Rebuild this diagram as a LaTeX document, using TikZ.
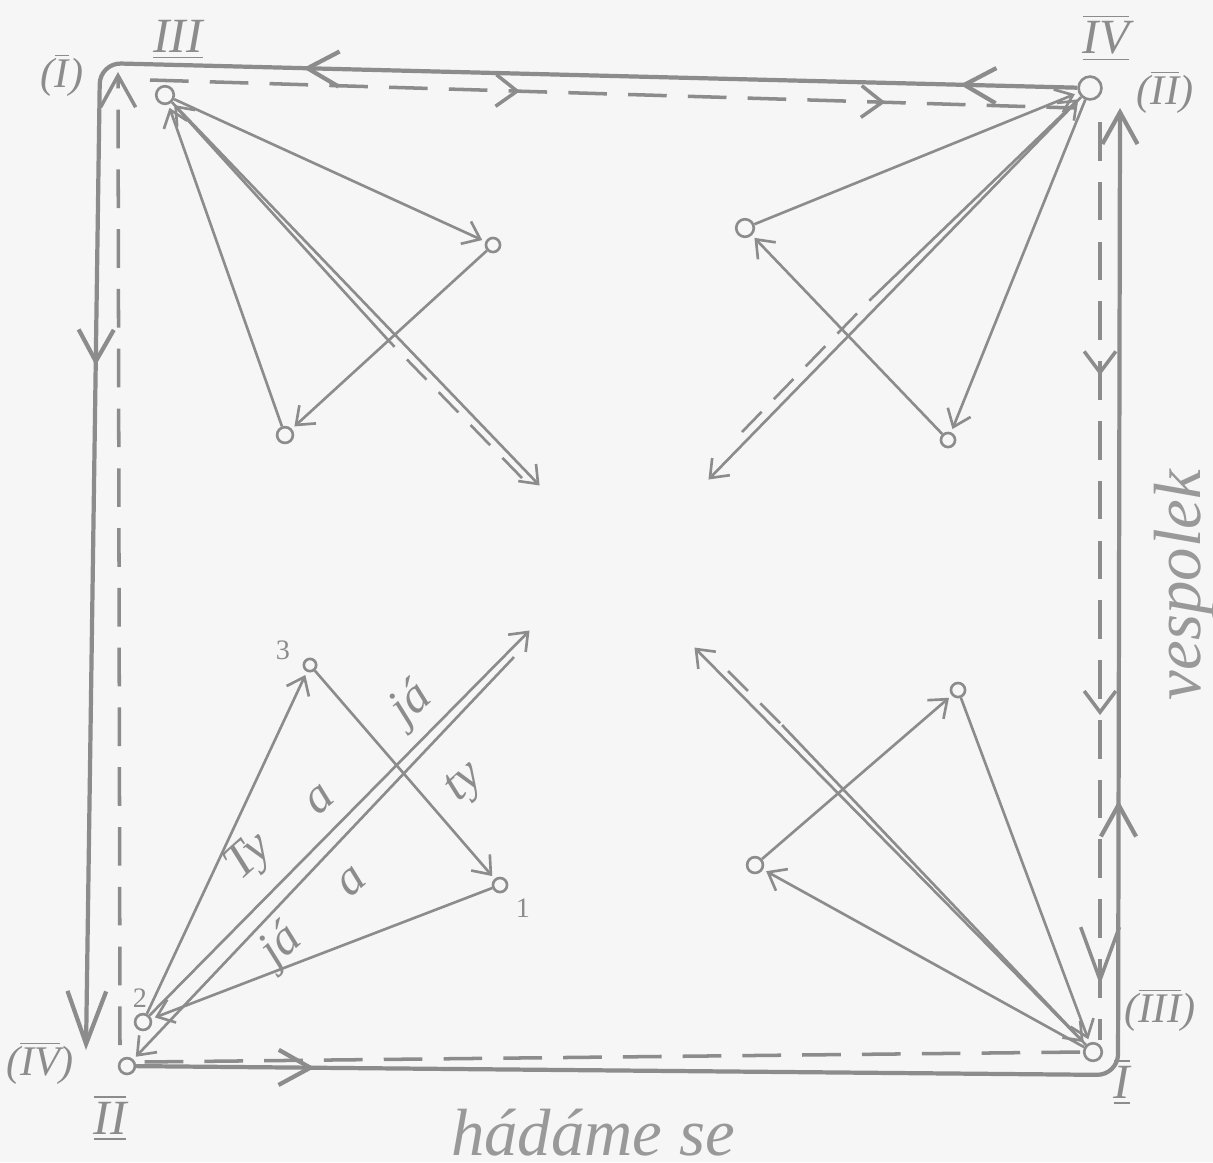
\documentclass[tikz,border=0pt]{standalone}
\usepackage{fontspec}
\setmainfont{Liberation Serif}
\usetikzlibrary{arrows.meta,positioning,decorations.markings}
\definecolor{pencil}{gray}{0.55}
\definecolor{paper}{gray}{0.965}
\definecolor{printgray}{gray}{0.6}
\newcommand{\topbar}[1]{$\overline{\hbox{#1}}$}
\newcommand{\lowbar}[1]{$\underline{\hbox{#1}}$}
\newcommand{\bothbar}[1]{$\overline{\underline{\hbox{#1}}}$}
\tikzset{
  smalltip/.tip={Straight Barb[length=4.5pt,width=7pt]},
  midtip/.tip={Straight Barb[length=6pt,width=9pt]},
  bigtip/.tip={Straight Barb[length=9pt,width=10pt]},
  hugetip/.tip={Straight Barb[length=15pt,width=11pt]},
  link/.style={draw=pencil,line width=0.75pt,-{smalltip},shorten >=1pt},
  twin/.style={draw=pencil,line width=0.75pt,dash pattern=on 8pt off 5pt},
  ring/.style={circle,draw=pencil,line width=0.75pt,inner sep=0pt,minimum size=#1},
  ring/.default=4pt,
  rim/.style={draw=pencil,line width=1.2pt,rounded corners=6pt},
  rimdash/.style={draw=pencil,line width=1pt,dash pattern=on 11pt off 6pt},
  tipat/.style={postaction={decorate,decoration={markings,mark=at position #1 with {\arrow{bigtip}}}}},
  dashtipat/.style={postaction={decorate,decoration={markings,mark=at position #1 with {\arrow{midtip}}}}},
  hugetipat/.style={postaction={decorate,decoration={markings,mark=at position #1 with {\arrow{hugetip}}}}},
  hand/.style={text=pencil,font=\itshape\fontsize{14}{14}\selectfont,inner sep=0pt},
  roman/.style={text=pencil,font=\itshape\fontsize{12}{12}\selectfont,inner sep=0pt},
  bigroman/.style={roman,font=\itshape\fontsize{14}{14}\selectfont},
  num/.style={text=pencil,font=\fontsize{8}{8}\selectfont,inner sep=0pt},
  caption/.style={text=printgray,font=\itshape\fontsize{19}{19}\selectfont,inner sep=0pt}
}
\begin{document}
\begin{tikzpicture}[x=0.01cm,y=-0.01cm]
\fill[paper] (0,0) rectangle (1213,1162);
\useasboundingbox (0,0) rectangle (1213,1162);
% rings: corner hubs and the small ones
\node[ring=5pt] (tl) at (165,95) {}; \node[ring=4pt] (ta) at (493,245) {}; \node[ring=4.5pt] (tb) at (285,435) {};
\node[ring=6.5pt] (tr) at (1090,88) {}; \node[ring=5pt] (tc) at (745,228) {}; \node[ring=4pt] (td) at (948,440) {};
\node[ring=5pt] (br) at (1093,1052) {}; \node[ring=4pt] (be) at (958,690) {}; \node[ring=4.5pt] (bf) at (755,865) {};
\node[ring=4.5pt] (bt) at (143,1022) {}; \node[ring=3.5pt] (bth) at (310,665) {}; \node[ring=4pt] (bo) at (500,885) {};
\node[ring=4.5pt] (bc) at (127,1066) {};
% outer frame, solid
\coordinate (fTL) at (100,63); \coordinate (fBL) at (86,1050); \coordinate (fBR) at (1118,1075); \coordinate (fTR) at (1120,108);
\draw[rim,-{hugetip},tipat=0.06,tipat=0.396,tipat=0.65] (tr) -- (fTL) -- (fBL);
\draw[rim,-{bigtip},tipat=0.092,tipat=0.643] (bc) -- (fBR) -- (fTR);
% inner frame, dashed
\coordinate (dT1) at (150,80); \coordinate (dT2) at (1075,108); \coordinate (dR1) at (1100,122); \coordinate (dR2) at (1100,1040);
\coordinate (dB1) at (1080,1052); \coordinate (dB2) at (140,1062); \coordinate (dL1) at (120,1045); \coordinate (dL2) at (118,72);
\draw[rimdash,dashtipat=0.4,dashtipat=0.795] (dT1) -- (dT2);
\draw[rimdash,dashtipat=0.276,dashtipat=0.646,hugetipat=0.94] (dR1) -- (dR2);
\draw[rimdash] (dB1) -- (dB2);
\draw[rimdash,-{bigtip}] (dL1) -- (dL2);
% triangles
\draw[link] (tl) -- (ta); \draw[link] (ta) -- (tb); \draw[link] (tb) -- (tl);
\draw[link] (tr) -- (td); \draw[link] (td) -- (tc); \draw[link] (tc) -- (tr);
\draw[link] (br) -- (bf); \draw[link] (bf) -- (be); \draw[link] (be) -- (br);
\draw[link] (bt) -- (bth); \draw[link] (bth) -- (bo); \draw[link] (bo) -- (bt);
% double lines to the middle
\coordinate (tlx) at (542,488); \coordinate (tlm) at (389,341); \coordinate (tly) at (522,478);
\draw[link] (tl) -- (tlx); \draw[twin] (tly) -- (tlm); \draw[link] (tlm) -- (tl);
\coordinate (trx) at (706,482); \coordinate (trm) at (872,298); \coordinate (try) at (742,432);
\draw[link] (tr) -- (trx); \draw[twin] (try) -- (trm); \draw[link] (trm) -- (tr);
\coordinate (brx) at (692,645); \coordinate (brm) at (782,725); \coordinate (bry) at (728,671);
\draw[link] (br) -- (brx); \draw[twin] (bry) -- (brm); \draw[link] (brm) -- (br);
\coordinate (blx) at (532,628); \coordinate (bly) at (514,657);
\draw[link] (bt) -- (blx); \draw[link] (bly) -- (bc);
% words along the lower left lines
\node[hand,rotate=42] (ty1) at (250,858) {Ty}; \node[hand,rotate=42] (a1) at (320,800) {a}; \node[hand,rotate=42] (ja1) at (412,704) {já};
\node[hand,rotate=42] (ja2) at (282,946) {já}; \node[hand,rotate=42] (a2) at (352,882) {a}; \node[hand,rotate=42] (ty2) at (466,784) {ty};
\node[num] (n3) at (283,650) {3}; \node[num] (n1) at (523,908) {1}; \node[num] (n2) at (140,998) {2};
% corner numerals
\node[roman] (pI) at (62,75) {(\topbar{I})}; \node[bigroman] (uIII) at (178,40) {\lowbar{III}};
\node[bigroman] (uIV) at (1106,38) {\bothbar{IV}}; \node[roman] (pII) at (1165,92) {(\topbar{II})};
\node[roman] (pIII) at (1160,1010) {(\topbar{III})}; \node[bigroman] (uI) at (1122,1082) {\bothbar{I}};
\node[roman] (pIV) at (40,1063) {(\topbar{IV})}; \node[bigroman] (uII) at (110,1118) {\bothbar{II}};
% printed captions
\node[caption,rotate=90,anchor=base] (side) at (1200,585) {vespolek};
\node[caption,anchor=base] (foot) at (593,1155) {hádáme se};
\end{tikzpicture}
\end{document}
